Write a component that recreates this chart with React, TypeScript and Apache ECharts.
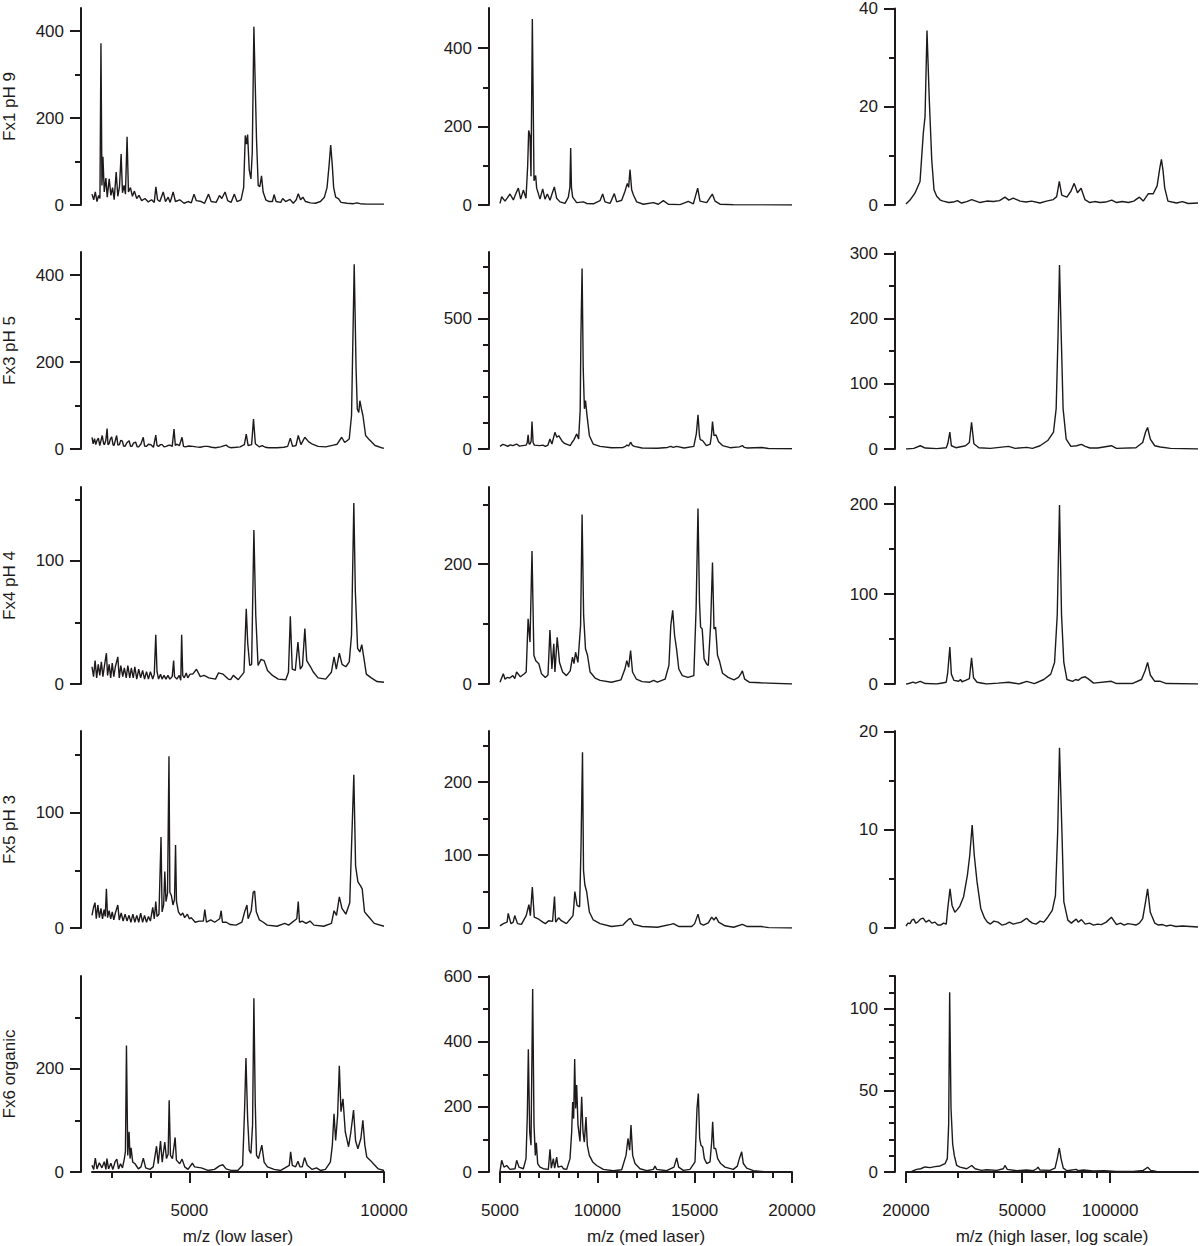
import React, { useEffect, useRef } from "react";
import * as echarts from "echarts";

// ---------- labels & axis settings ----------
const rowLabels = ["Fx1 pH 9", "Fx3 pH 5", "Fx4 pH 4", "Fx5 pH 3", "Fx6 organic"];
const xTitles = ["m/z (low laser)", "m/z (med laser)", "m/z (high laser, log scale)"];

const xMin = [2500, 5000, 20000];
const xMax = [10000, 20000, 200000];
const xMajorTicks = [[5000, 10000], [5000, 10000, 15000, 20000], [20000, 50000, 100000]];
const xMinorTicks = [
  [3000, 4000, 6000, 7000, 8000, 9000],
  [6000, 7000, 8000, 9000, 11000, 12000, 13000, 14000, 16000, 17000, 18000, 19000],
  [30000, 40000, 60000, 70000, 80000, 90000],
];

const yMax = [
  [453, 502, 40],
  [453, 755, 302],
  [160, 329, 219],
  [171, 270, 20.1],
  [380, 602, 120],
];
const yMajorTicks = [
  [[0, 200, 400], [0, 200, 400], [0, 20, 40]],
  [[0, 200, 400], [0, 500], [0, 100, 200, 300]],
  [[0, 100], [0, 200], [0, 100, 200]],
  [[0, 100], [0, 100, 200], [0, 10, 20]],
  [[0, 200], [0, 200, 400, 600], [0, 50, 100]],
];
const yMinorTicks = [
  [[100, 300], [100, 300], [10, 30]],
  [[100, 300], [100, 200, 300, 400, 600, 700], [50, 150, 250]],
  [[50, 150], [100, 300], [50, 150]],
  [[50, 150], [50, 150, 250], [5, 15]],
  [[100, 300], [100, 300, 500], [10, 20, 30, 40, 60, 70, 80, 90, 110, 120]],
];

// ---------- spectra [m/z, intensity] ----------
const fx1Low = [
  [2500, 25], [2543, 12], [2585, 30], [2628, 8], [2670, 22], [2704, 15], [2730, 372], [2755, 45], [2781, 111], [2815, 30],
  [2857, 62], [2891, 18], [2942, 60], [2985, 22], [3028, 40], [3070, 12], [3121, 76], [3163, 20], [3206, 42], [3248, 117],
  [3283, 28], [3324, 45], [3359, 25], [3401, 157], [3436, 30], [3487, 40], [3538, 20], [3589, 32], [3648, 15], [3707, 22],
  [3776, 10], [3861, 15], [3946, 7], [4031, 12], [4099, 6], [4141, 42], [4184, 12], [4243, 8], [4329, 30], [4388, 8],
  [4456, 18], [4507, 6], [4584, 30], [4643, 8], [4753, 12], [4864, 4], [4966, 8], [5051, 5], [5120, 25], [5179, 10],
  [5306, 8], [5391, 4], [5493, 25], [5561, 8], [5689, 6], [5774, 22], [5833, 15], [5918, 30], [5986, 10], [6071, 6],
  [6156, 25], [6225, 8], [6327, 12], [6395, 40], [6437, 160], [6471, 140], [6497, 162], [6539, 80], [6582, 60], [6616, 120],
  [6658, 410], [6692, 280], [6726, 150], [6769, 45], [6811, 42], [6854, 67], [6896, 30], [6964, 12], [7049, 8], [7134, 8],
  [7177, 24], [7228, 8], [7347, 6], [7398, 15], [7474, 8], [7585, 13], [7670, 4], [7746, 12], [7798, 26], [7857, 12],
  [7916, 18], [7984, 8], [8112, 5], [8240, 4], [8367, 8], [8469, 18], [8537, 40], [8588, 90], [8631, 138], [8673, 90],
  [8707, 40], [8759, 18], [8835, 14], [8895, 6], [9049, 4], [9218, 3], [9303, 5], [9388, 3], [9558, 2], [10000, 2],
];
const fx1Med = [
  [5000, 4], [5086, 21], [5257, 10], [5377, 18], [5514, 28], [5685, 13], [5822, 30], [5942, 43], [6062, 15], [6199, 38],
  [6336, 17], [6422, 100], [6473, 190], [6541, 176], [6592, 73], [6661, 474], [6695, 312], [6747, 62], [6832, 75], [6883, 43],
  [7055, 15], [7192, 41], [7312, 15], [7432, 28], [7569, 12], [7671, 28], [7791, 46], [7911, 17], [8082, 8], [8339, 4],
  [8510, 20], [8590, 45], [8631, 145], [8670, 45], [8733, 20], [8939, 6], [9281, 8], [9452, 4], [9795, 3], [10137, 11],
  [10275, 28], [10394, 8], [10651, 4], [10873, 29], [10994, 8], [11251, 12], [11421, 35], [11541, 55], [11610, 45], [11678, 90],
  [11764, 39], [11850, 26], [12022, 8], [12364, 2], [12878, 6], [13134, 2], [13390, 11], [13647, 2], [14247, 1], [14674, 9],
  [14931, 3], [15155, 43], [15274, 10], [15617, 6], [15906, 28], [16045, 10], [16302, 2], [16987, 0.5], [20000, 0],
];
const fx1High = [
  [20000, 0.2], [20640, 1.0], [21460, 2.4], [22340, 4.8], [22930, 14.7], [23240, 18], [23600, 35.5], [24030, 21.5], [24500, 9.2], [24940, 3.1],
  [25480, 1.8], [26200, 1.0], [26840, 0.8], [28000, 0.5], [29050, 0.6], [30000, 0.9], [31000, 0.4], [32300, 0.7], [33580, 1.1], [35860, 0.5],
  [37800, 0.8], [39830, 0.7], [41800, 0.9], [43650, 1.6], [45000, 1.0], [46600, 1.4], [49160, 0.8], [51500, 0.6], [53860, 0.8], [57520, 0.4],
  [60500, 0.8], [63900, 1.1], [65620, 1.7], [67000, 4.8], [68300, 2.0], [71100, 1.6], [73400, 2.8], [75340, 4.4], [77340, 2.5], [79540, 3.4],
  [82000, 1.1], [85220, 0.5], [88500, 0.7], [92460, 0.5], [96500, 0.6], [101300, 1.0], [105300, 0.5], [110000, 0.7], [115500, 0.5], [120500, 0.8],
  [126000, 1.6], [129900, 0.8], [135200, 2.3], [140500, 2.3], [144900, 3.9], [147960, 7.5], [149900, 9.3], [151800, 7.0], [153800, 3.5], [157800, 0.8],
  [163000, 0.6], [168900, 0.4], [176900, 0.7], [185000, 0.3], [200000, 0.4],
];

const fx3Low = [
  [2500, 27], [2530, 12], [2565, 24], [2597, 10], [2630, 20], [2664, 25], [2700, 8], [2763, 31], [2800, 12], [2821, 10],
  [2855, 20], [2888, 47], [2910, 10], [2939, 12], [2970, 22], [3006, 28], [3040, 10], [3065, 8], [3100, 20], [3133, 31],
  [3165, 9], [3202, 10], [3240, 20], [3281, 18], [3310, 7], [3347, 6], [3400, 15], [3454, 19], [3490, 6], [3523, 6],
  [3570, 14], [3620, 16], [3660, 5], [3699, 5], [3760, 12], [3816, 27], [3850, 7], [3895, 6], [3950, 11], [4012, 10],
  [4079, 4], [4138, 32], [4170, 8], [4207, 6], [4260, 10], [4304, 10], [4350, 5], [4403, 6], [4450, 8], [4500, 9],
  [4560, 6], [4607, 46], [4640, 8], [4676, 11], [4745, 8], [4812, 27], [4850, 6], [4891, 5], [4990, 7], [5087, 6],
  [5180, 5], [5281, 4], [5380, 6], [5477, 6], [5570, 4], [5671, 3], [5800, 5], [5944, 9], [6000, 5], [6061, 3],
  [6200, 4], [6306, 5], [6413, 10], [6462, 34], [6510, 8], [6600, 10], [6648, 69], [6696, 12], [6793, 5], [6872, 8],
  [6950, 4], [7038, 3], [7250, 3], [7429, 4], [7526, 6], [7594, 25], [7653, 6], [7740, 8], [7798, 31], [7867, 10],
  [7967, 27], [8061, 17], [8161, 11], [8306, 6], [8503, 5], [8699, 9], [8796, 11], [8913, 27], [8990, 15], [9107, 23],
  [9166, 77], [9235, 425], [9283, 184], [9314, 92], [9352, 84], [9380, 111], [9421, 92], [9459, 77], [9528, 31], [9625, 21],
  [9770, 8], [9967, 2], [10000, 2],
];
const fx3Med = [
  [5000, 10], [5030, 10], [5150, 18], [5265, 15], [5400, 10], [5520, 16], [5659, 13], [5853, 19], [6000, 11], [6151, 13],
  [6346, 15], [6400, 25], [6444, 54], [6490, 20], [6541, 19], [6600, 30], [6644, 105], [6700, 25], [6762, 15], [7034, 13],
  [7200, 15], [7329, 10], [7466, 15], [7565, 38], [7666, 19], [7822, 64], [7919, 45], [8017, 51], [8175, 32], [8300, 22],
  [8412, 19], [8607, 13], [8700, 25], [8802, 36], [8941, 58], [9039, 38], [9120, 150], [9157, 436], [9217, 692], [9275, 308],
  [9336, 154], [9392, 186], [9470, 128], [9592, 51], [9788, 19], [10142, 10], [10728, 5], [11318, 6], [11450, 10], [11514, 15],
  [11611, 12], [11709, 26], [11800, 14], [11904, 10], [12300, 4], [13086, 3], [13600, 6], [13774, 10], [13900, 6], [14067, 10],
  [14463, 4], [14956, 10], [15089, 60], [15171, 131], [15248, 50], [15289, 36], [15407, 32], [15603, 13], [15798, 19], [15860, 50],
  [15916, 105], [15993, 51], [16096, 54], [16229, 28], [16430, 13], [16820, 5], [17300, 8], [17452, 13], [17550, 6], [17704, 4],
  [18433, 6], [18788, 2], [20000, 1],
];
const fx3High = [
  [20000, 0], [20200, 0], [21260, 1], [22380, 5], [23290, 1.5], [25500, 0.5], [27470, 2], [27800, 8], [28260, 26], [28600, 5],
  [29640, 2], [31980, 5], [32960, 10], [33540, 41], [34160, 8], [35520, 2], [38910, 1], [44900, 4], [47300, 1], [51800, 2.5],
  [54200, 1], [57560, 5], [61160, 13], [64000, 26], [65360, 62], [66330, 174], [67100, 282], [68020, 174], [69030, 62], [70740, 15],
  [73400, 4], [76820, 5], [79800, 7], [82200, 4], [85300, 1.5], [90660, 1.5], [101000, 5], [105200, 1], [122600, 2], [129300, 10],
  [132300, 26], [134400, 33], [137300, 15], [142200, 5], [148600, 3], [161000, 1], [200000, 0],
];

const fx4Low = [
  [2500, 14], [2540, 6], [2580, 19], [2620, 5], [2660, 16], [2700, 7], [2740, 18], [2780, 6], [2820, 15], [2870, 25],
  [2900, 7], [2940, 16], [2980, 5], [3020, 17], [3060, 6], [3100, 14], [3163, 22], [3200, 5], [3240, 15], [3290, 6],
  [3330, 13], [3380, 5], [3420, 15], [3470, 5], [3510, 13], [3560, 5], [3600, 14], [3650, 4], [3700, 12], [3750, 5],
  [3800, 11], [3850, 4], [3900, 10], [3950, 4], [4000, 10], [4060, 4], [4100, 8], [4138, 40], [4170, 10], [4210, 4],
  [4260, 8], [4300, 4], [4350, 7], [4400, 4], [4450, 7], [4500, 4], [4560, 6], [4597, 19], [4620, 6], [4680, 4],
  [4740, 7], [4780, 3], [4803, 40], [4830, 7], [4870, 5], [4920, 9], [4960, 5], [5020, 8], [5087, 8], [5184, 12],
  [5280, 6], [5378, 7], [5500, 5], [5671, 4], [5750, 9], [5867, 8], [6000, 4], [6061, 3.5], [6130, 7], [6257, 3.5],
  [6403, 9.5], [6462, 61], [6500, 33], [6551, 15], [6600, 16], [6658, 125], [6706, 56], [6765, 15], [6842, 20], [6921, 19],
  [7008, 11], [7135, 7], [7283, 4], [7477, 3.5], [7546, 9.5], [7594, 55], [7643, 12], [7722, 11], [7790, 34], [7849, 12],
  [7906, 15], [7967, 45], [8015, 19], [8112, 14], [8189, 9.5], [8306, 5], [8503, 4], [8648, 9.5], [8717, 22], [8775, 12],
  [8853, 25], [8923, 16], [9020, 14], [9107, 18], [9166, 40], [9225, 147], [9264, 75], [9322, 29], [9380, 26], [9429, 32],
  [9479, 22], [9546, 8], [9673, 5], [9821, 2], [10000, 1.4],
];
const fx4Med = [
  [5000, 3], [5030, 3], [5170, 17], [5260, 8], [5365, 11], [5500, 10], [5659, 14], [5760, 9], [5853, 20], [6051, 12],
  [6248, 17], [6346, 20], [6444, 109], [6541, 70], [6644, 222], [6741, 48], [6839, 39], [6993, 34], [7132, 17], [7329, 11],
  [7466, 15], [7565, 90], [7666, 25], [7764, 67], [7822, 20], [7939, 78], [8057, 36], [8216, 20], [8412, 14], [8607, 22],
  [8724, 45], [8802, 34], [8883, 53], [9002, 36], [9140, 98], [9217, 283], [9295, 115], [9392, 59], [9495, 48], [9629, 20],
  [9885, 10], [10142, 6], [10728, 3], [11216, 7], [11416, 25], [11514, 39], [11611, 28], [11709, 56], [11807, 20], [12007, 8],
  [12300, 4], [12695, 3], [12891, 6], [13086, 3], [13481, 8], [13677, 31], [13774, 98], [13872, 123], [13969, 81], [14067, 59],
  [14185, 25], [14365, 14], [14658, 11], [14956, 14], [15074, 126], [15171, 293], [15248, 137], [15305, 95], [15387, 92], [15485, 42],
  [15603, 34], [15700, 31], [15818, 98], [15916, 203], [15993, 92], [16075, 95], [16173, 48], [16270, 39], [16430, 18], [16722, 11],
  [17015, 7], [17251, 11], [17370, 17], [17452, 22], [17570, 8], [17806, 3], [18392, 2], [20000, 0],
];
const fx4High = [
  [20000, 0], [20200, 0], [21140, 2], [21560, 1], [22380, 3], [23290, 0.5], [25500, 0], [27470, 2], [27800, 13], [28260, 41],
  [28600, 11], [29200, 4], [30280, 3], [30740, 5], [31100, 2.5], [31980, 4], [32960, 6], [33540, 29], [34060, 7], [35020, 2],
  [37740, 0], [41320, 1], [44900, 2], [48740, 0], [51800, 3], [55040, 0.5], [59300, 5], [62620, 11], [64540, 24], [65920, 77],
  [67100, 199], [68180, 77], [69420, 24], [71160, 5], [74400, 3], [76200, 5], [77760, 4], [79800, 7], [82200, 8], [84000, 6],
  [87780, 1], [101000, 3], [105200, 0.5], [119000, 0.5], [128100, 5], [131900, 15], [134400, 24], [137300, 10], [142200, 3], [148600, 3],
  [156000, 0.5], [200000, 0],
];

const fx5Low = [
  [2500, 11], [2540, 18], [2577, 22], [2610, 8], [2650, 20], [2690, 9], [2730, 17], [2770, 8], [2810, 16], [2840, 10],
  [2870, 34], [2900, 9], [2940, 15], [2980, 8], [3020, 14], [3060, 7], [3100, 13], [3163, 20], [3200, 7], [3250, 13],
  [3300, 6], [3350, 12], [3400, 6], [3450, 11], [3500, 5], [3550, 12], [3600, 5], [3650, 11], [3700, 5], [3750, 13],
  [3800, 5], [3850, 11], [3900, 5], [3950, 10], [4000, 6], [4060, 18], [4100, 8], [4138, 23], [4170, 10], [4220, 12],
  [4273, 79], [4300, 14], [4340, 20], [4370, 49], [4400, 23], [4440, 30], [4477, 149], [4500, 31], [4540, 28], [4580, 20],
  [4620, 25], [4646, 72], [4670, 23], [4720, 14], [4780, 11], [4830, 13], [4880, 9], [4950, 12], [5000, 8], [5050, 9],
  [5150, 5], [5250, 6], [5360, 6], [5398, 16], [5440, 5], [5550, 7], [5650, 5], [5780, 8], [5818, 15], [5850, 5],
  [5950, 5], [6050, 3], [6200, 2.5], [6350, 5], [6420, 14], [6480, 20], [6510, 8], [6590, 15], [6640, 31], [6677, 32],
  [6720, 14], [6800, 7], [6900, 5], [7000, 2.5], [7250, 1.5], [7450, 4], [7550, 2.5], [7760, 8], [7798, 23], [7830, 5],
  [7900, 6], [8000, 4], [8100, 6], [8200, 2.5], [8450, 1.5], [8650, 4], [8717, 15], [8780, 11], [8853, 27], [8920, 17],
  [9020, 12], [9120, 22], [9225, 133], [9270, 54], [9330, 40], [9390, 37], [9440, 34], [9500, 14], [9600, 10], [9750, 4],
  [10000, 1.5],
];
const fx5Med = [
  [5000, 3], [5030, 3], [5170, 6], [5365, 8], [5421, 20], [5560, 6], [5680, 8], [5756, 17], [5900, 6], [6100, 5],
  [6346, 17], [6485, 32], [6560, 17], [6660, 56], [6760, 15], [6990, 12], [7200, 8], [7330, 6], [7500, 10], [7700, 9],
  [7800, 43], [7860, 8], [8010, 14], [8150, 10], [8410, 6], [8600, 12], [8750, 17], [8800, 32], [8843, 50], [8960, 31],
  [9090, 29], [9160, 109], [9238, 241], [9290, 79], [9360, 59], [9450, 50], [9590, 22], [9790, 11], [10140, 6], [10728, 2],
  [11318, 4], [11450, 8], [11612, 12], [11710, 13], [11880, 5], [12300, 2], [13086, 1], [13774, 5], [13900, 6], [14200, 2],
  [14850, 2], [15000, 6], [15171, 19], [15290, 6], [15450, 4], [15700, 7], [15875, 15], [15990, 11], [16096, 15], [16230, 8],
  [16560, 3], [17000, 1], [17452, 5], [17704, 2], [18434, 2], [18800, 0.5], [20000, 0],
];
const fx5High = [
  [20000, 0.2], [20300, 0.5], [20640, 0.44], [20950, 0.8], [21260, 0.9], [21600, 0.5], [21930, 0.6], [22400, 0.9], [22900, 1.0], [23400, 0.6],
  [24000, 0.8], [24500, 0.5], [25130, 0.6], [25700, 0.3], [26280, 0.3], [26900, 0.5], [27470, 0.4], [27800, 2.0], [28300, 4.0], [28760, 2.3],
  [29400, 1.6], [30000, 1.9], [30540, 2.2], [31500, 3.2], [32460, 5.4], [33060, 7.4], [33700, 10.5], [34270, 7.4], [35020, 4.7], [36070, 2.0],
  [37170, 1.0], [38000, 0.6], [38910, 0.4], [40000, 0.7], [41320, 0.6], [42600, 0.3], [43900, 0.4], [45200, 0.6], [46600, 0.4], [48000, 0.5],
  [49540, 0.6], [50700, 0.8], [51800, 1.0], [53000, 0.7], [54200, 0.5], [55800, 0.4], [57560, 0.7], [59300, 0.6], [61160, 1.1], [63380, 1.8],
  [64980, 3.3], [66140, 9.8], [67100, 18.4], [68400, 9.8], [69420, 2.7], [71660, 0.8], [73680, 0.5], [75000, 0.7], [76600, 0.9], [77760, 0.6],
  [79800, 0.85], [82200, 0.4], [85000, 0.5], [87780, 0.3], [90500, 0.4], [93340, 0.35], [97000, 0.6], [101000, 1.1], [105200, 0.35], [108500, 0.5],
  [111800, 0.3], [115000, 0.45], [118100, 0.4], [122600, 0.3], [126000, 0.5], [129300, 0.95], [132300, 2.7], [134400, 4.0], [137300, 1.6], [142200, 0.5],
  [146500, 0.3], [151200, 0.35], [156000, 0.2], [161000, 0.3], [168000, 0.15], [176900, 0.2], [188000, 0.15], [200000, 0.1],
];

const fx6Low = [
  [2500, 13], [2543, 5], [2585, 27], [2628, 6], [2687, 18], [2755, 8], [2815, 20], [2857, 5], [2883, 26], [2926, 6],
  [2985, 17], [3036, 5], [3094, 20], [3138, 25], [3181, 6], [3232, 16], [3283, 8], [3334, 27], [3359, 40], [3385, 245],
  [3418, 32], [3452, 78], [3478, 26], [3503, 47], [3546, 19], [3605, 16], [3691, 6], [3758, 10], [3818, 27], [3878, 8],
  [3988, 5], [4073, 10], [4158, 50], [4201, 16], [4260, 60], [4303, 19], [4370, 58], [4413, 26], [4456, 35], [4482, 139],
  [4515, 32], [4566, 26], [4635, 67], [4668, 23], [4753, 16], [4813, 25], [4881, 10], [4966, 5], [5077, 17], [5136, 10],
  [5306, 8], [5476, 3], [5646, 5], [5774, 12], [5859, 14], [5944, 6], [6071, 3], [6242, 3], [6369, 13], [6420, 123],
  [6454, 221], [6497, 104], [6539, 42], [6582, 36], [6624, 91], [6658, 337], [6692, 136], [6726, 32], [6777, 26], [6862, 52],
  [6921, 19], [7006, 10], [7177, 5], [7347, 3], [7568, 13], [7602, 39], [7645, 13], [7730, 10], [7790, 21], [7840, 10],
  [7900, 10], [7959, 28], [8028, 13], [8155, 5], [8265, 8], [8367, 3], [8495, 5], [8622, 19], [8673, 52], [8716, 113],
  [8758, 61], [8809, 110], [8852, 206], [8895, 117], [8946, 142], [9005, 78], [9090, 49], [9150, 78], [9218, 120], [9269, 61],
  [9329, 45], [9406, 65], [9457, 100], [9508, 52], [9558, 29], [9643, 23], [9728, 16], [9855, 6], [10000, 3],
];
const fx6Med = [
  [5000, 2], [5086, 36], [5205, 15], [5342, 20], [5514, 8], [5771, 10], [5856, 36], [5976, 15], [6199, 10], [6336, 41],
  [6404, 174], [6456, 377], [6525, 123], [6592, 82], [6678, 562], [6747, 144], [6815, 51], [6866, 90], [6935, 26], [7055, 15],
  [7226, 10], [7483, 8], [7569, 70], [7637, 12], [7740, 41], [7808, 12], [7911, 46], [7980, 15], [8168, 18], [8253, 10],
  [8425, 8], [8596, 41], [8682, 123], [8733, 215], [8784, 164], [8836, 347], [8887, 195], [8939, 267], [9007, 144], [9110, 94],
  [9196, 231], [9264, 123], [9332, 92], [9418, 169], [9486, 82], [9589, 51], [9761, 31], [9966, 20], [10309, 8], [10823, 4],
  [11251, 7], [11473, 51], [11575, 103], [11661, 67], [11729, 144], [11815, 51], [11935, 26], [12192, 10], [12534, 4], [12877, 8],
  [12962, 18], [13048, 8], [13562, 4], [13938, 15], [14077, 43], [14180, 15], [14417, 5], [14760, 8], [15017, 31], [15120, 195],
  [15188, 241], [15257, 103], [15325, 82], [15411, 77], [15497, 41], [15617, 26], [15788, 31], [15874, 92], [15925, 154], [15993, 72],
  [16079, 72], [16182, 41], [16336, 26], [16558, 15], [16986, 8], [17192, 18], [17295, 41], [17415, 62], [17500, 26], [17671, 12],
  [18014, 4], [18699, 0.5], [20000, 0],
];
const fx6High = [
  [20000, 0], [20910, 0.4], [21760, 1.6], [22460, 2], [23240, 3.1], [24160, 2.7], [25140, 3.3], [26160, 3.7], [27210, 5.1], [27700, 8.2],
  [28000, 29], [28220, 110], [28520, 39], [28900, 17], [29280, 10], [29830, 4], [30620, 3], [32280, 2], [33580, 4], [34490, 2],
  [36300, 1], [37780, 1.4], [40900, 1], [43070, 2], [43650, 4], [44440, 1.6], [47930, 0.8], [51800, 1.2], [54570, 0.8], [56060, 2],
  [56640, 3], [57520, 1.2], [62260, 1], [64780, 2.4], [65920, 8.2], [67000, 14.7], [67920, 8.2], [69140, 2.4], [71100, 0.8], [76500, 1.6],
  [77700, 0.8], [80940, 1.2], [87520, 0.6], [95340, 0.8], [105300, 0.4], [120000, 0.4], [129900, 1], [134500, 2.9], [137700, 1], [144200, 0.4],
  [200000, 0],
];

const spectra = [
  [fx1Low, fx1Med, fx1High],
  [fx3Low, fx3Med, fx3High],
  [fx4Low, fx4Med, fx4High],
  [fx5Low, fx5Med, fx5High],
  [fx6Low, fx6Med, fx6High],
];

// ---------- layout (pixels) ----------
const COL_LEFT = [90, 500, 906];
const COL_WIDTH = [294, 292, 292];
const ROW_TOP = [8, 252, 487, 731, 976];
const PANEL_H = 197;
const INK = "#1e1a1b";
const FONT = "'Liberation Sans', Arial, Helvetica, sans-serif";
const FS = 17;

function buildOption() {
  const grid: any[] = [];
  const xAxis: any[] = [];
  const yAxis: any[] = [];
  const series: any[] = [];
  const fmt = (v: number) => String(Math.round(v));
  const axisLineStyle = { color: INK, width: 2 };

  for (let r = 0; r < 5; r++) {
    for (let c = 0; c < 3; c++) {
      const i = r * 3 + c;
      grid.push({ left: COL_LEFT[c], top: ROW_TOP[r], width: COL_WIDTH[c], height: PANEL_H });
      const bottom = r === 4;
      const xBase: any = {
        type: c === 2 ? "log" : "value",
        gridIndex: i,
        min: xMin[c],
        max: xMax[c],
        position: "bottom",
        offset: 13,
        show: bottom,
        splitLine: { show: false },
        minorSplitLine: { show: false },
      };
      if (c === 2) xBase.logBase = 10;
      xAxis.push({
        ...xBase,
        axisLine: { show: true, lineStyle: axisLineStyle },
        axisTick: { show: true, customValues: xMajorTicks[c], length: 11, lineStyle: axisLineStyle },
        axisLabel: {
          show: true, customValues: xMajorTicks[c], margin: 17, color: INK, fontSize: FS, fontFamily: FONT, formatter: fmt,
          showMinLabel: true, showMaxLabel: true,
        },
        name: bottom ? xTitles[c] : "",
        nameLocation: "middle",
        nameGap: 43,
        nameTextStyle: { color: INK, fontSize: FS, fontFamily: FONT },
      });
      xAxis.push({
        ...xBase,
        axisLine: { show: false },
        axisTick: { show: true, customValues: xMinorTicks[c], length: 6, lineStyle: axisLineStyle },
        axisLabel: { show: false },
      });

      const yBase: any = {
        type: "value",
        gridIndex: i,
        min: 0,
        max: yMax[r][c],
        position: "left",
        offset: 11,
        splitLine: { show: false },
      };
      yAxis.push({
        ...yBase,
        axisLine: { show: true, lineStyle: axisLineStyle },
        axisTick: { show: true, customValues: yMajorTicks[r][c], length: 11, lineStyle: axisLineStyle },
        axisLabel: {
          show: true, customValues: yMajorTicks[r][c], margin: 17, color: INK, fontSize: FS, fontFamily: FONT, formatter: fmt,
        },
        name: c === 0 ? rowLabels[r] : "",
        nameLocation: "middle",
        nameGap: 63,
        nameTextStyle: { color: INK, fontSize: FS, fontFamily: FONT },
      });
      yAxis.push({
        ...yBase,
        axisLine: { show: false },
        axisTick: { show: true, customValues: yMinorTicks[r][c], length: 6, lineStyle: axisLineStyle },
        axisLabel: { show: false },
      });

      series.push({
        type: "line",
        xAxisIndex: 2 * i,
        yAxisIndex: 2 * i,
        data: spectra[r][c],
        showSymbol: false,
        symbol: "none",
        silent: true,
        lineStyle: { color: INK, width: 1.4 },
        emphasis: { disabled: true },
      });
    }
  }

  return {
    animation: false,
    backgroundColor: "#ffffff",
    grid,
    xAxis,
    yAxis,
    series,
  };
}

export default function App() {
  const ref = useRef<HTMLDivElement>(null);
  useEffect(() => {
    if (!ref.current) return;
    const chart = echarts.init(ref.current, null, { renderer: "svg" });
    chart.setOption(buildOption() as any);
    return () => chart.dispose();
  }, []);
  return (
    <div
      ref={ref}
      style={{ position: "absolute", left: 0, top: 0, width: 1200, height: 1246, background: "#fff" }}
    />
  );
}
